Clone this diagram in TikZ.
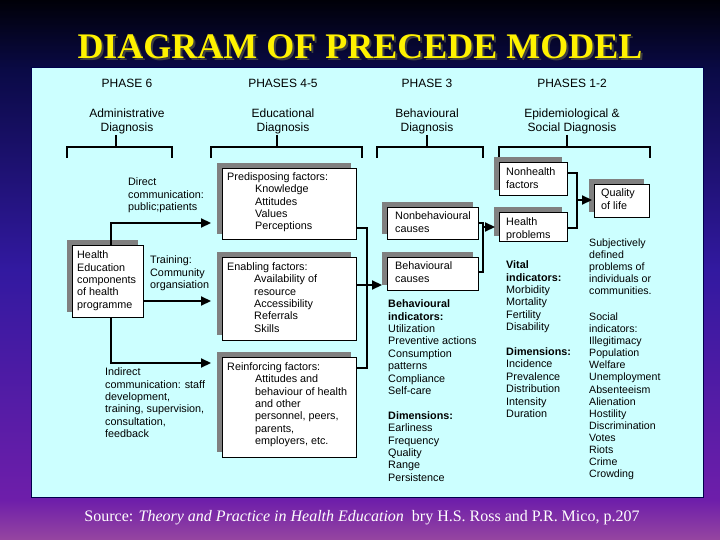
\documentclass[tikz,border=0pt]{standalone}
\usepackage{fontspec}
\setmainfont{Liberation Sans}
\newfontfamily\seriffam{Liberation Serif}
\usetikzlibrary{arrows.meta,shadows}
\definecolor{panelc}{RGB}{204,255,255}
\definecolor{shadowgray}{RGB}{128,128,128}
\definecolor{bgA}{RGB}{150,70,160}
\definecolor{bgB}{RGB}{110,30,170}
\definecolor{bgC}{RGB}{50,25,160}
\definecolor{bgD}{RGB}{10,10,70}
\definecolor{bgE}{RGB}{0,0,8}
\pgfdeclareverticalshading{bgshade}{100bp}{color(0bp)=(bgA); color(25bp)=(bgA); color(28.7bp)=(bgB); color(50bp)=(bgC); color(68.5bp)=(bgD); color(75bp)=(bgE); color(100bp)=(bgE)}
\begin{document}
\begin{tikzpicture}[x=1pt,y=-1pt,
  box/.style={draw=black,line width=0.6pt,fill=white,inner sep=0,anchor=north west,
    general shadow={fill=shadowgray,shadow xshift=-5pt,shadow yshift=5pt}},
  txt/.style={font=\fontsize{10.8pt}{12.4pt}\selectfont,align=left,anchor=north west,inner sep=0},
  txtr/.style={font=\fontsize{10.6pt}{12.1pt}\selectfont,align=left,anchor=north west,inner sep=0},
  hdr/.style={font=\fontsize{12pt}{14pt}\selectfont,align=center,anchor=north,inner sep=0},
  conn/.style={line width=2.2pt},
  arr/.style={conn,-{Triangle[length=10pt,width=9pt]}},
  brk/.style={line width=1.8pt}]
\useasboundingbox (0,0) rectangle (720,540);
\shade[shading=bgshade] (0,0) rectangle (720,540);
\fill[panelc] (31,67) rectangle (703,497);
\draw[black!70!blue,line width=0.8pt] (31,67) rectangle (703,497);

% title and source
\node[font=\seriffam\bfseries\fontsize{36pt}{40pt}\selectfont,text=black!75] (titlesh) at (362,48.5) {DIAGRAM OF PRECEDE MODEL};
\node[font=\seriffam\bfseries\fontsize{36pt}{40pt}\selectfont,text=yellow] (title) at (360,46.5) {DIAGRAM OF PRECEDE MODEL};
\node[font=\seriffam\fontsize{16pt}{19pt}\selectfont,text=white] (src) at (362,518) {Source: \textit{Theory and Practice in Health Education}\ \ bry H.S. Ross and P.R. Mico, p.207};

% headers
\node[hdr] (p6) at (127,77.5) {\strut PHASE 6};
\node[hdr] (p45) at (283,77.5) {\strut PHASES 4-5};
\node[hdr] (p3) at (427,77.5) {\strut PHASE 3};
\node[hdr] (p12) at (572,77.5) {\strut PHASES 1-2};
\node[hdr] (d6) at (127,107.5) {\strut Administrative\\Diagnosis};
\node[hdr] (d45) at (283,107.5) {\strut Educational\\Diagnosis};
\node[hdr] (d3) at (427,107.5) {\strut Behavioural\\Diagnosis};
\node[hdr] (d12) at (572,107.5) {\strut Epidemiological \&\\Social Diagnosis};

% brackets
\draw[brk] (67,158) -- (67,147) -- (172,147) -- (172,158);
\draw[brk] (116,135) -- (116,147);
\draw[brk] (211,158) -- (211,147) -- (362,147) -- (362,158);
\draw[brk] (277,135) -- (277,147);
\draw[brk] (377,158) -- (377,147) -- (483,147) -- (483,158);
\draw[brk] (427,135) -- (427,147);
\draw[brk] (499,158) -- (499,147) -- (650,147) -- (650,158);
\draw[brk] (567,135) -- (567,147);

% boxes
\node[box,minimum width=71pt,minimum height=72pt] (he) at (72,245) {};
\node[box,minimum width=134pt,minimum height=71pt] (pre) at (222,168) {};
\node[box,minimum width=134pt,minimum height=83pt] (ena) at (222,257) {};
\node[box,minimum width=134pt,minimum height=100pt] (rei) at (222,357) {};
\node[box,minimum width=91pt,minimum height=32pt] (nbc) at (387,207) {};
\node[box,minimum width=91pt,minimum height=33pt] (bc) at (387,257) {};
\node[box,minimum width=68pt,minimum height=33pt] (nhf) at (499,162) {};
\node[box,minimum width=68pt,minimum height=29pt] (hp) at (499,212) {};
\node[box,minimum width=55pt,minimum height=33pt] (qol) at (594,184) {};

% box texts
\node[txt] (hetxt) at (77,249.8) {\strut Health\\Education\\components\\of health\\programme};
\node[txt] (pretxt) at (227,171.8) {\strut Predisposing factors:};
\node[txt] (preitems) at (255,183.8) {\strut Knowledge\\Attitudes\\Values\\Perceptions};
\node[txt] (enatxt) at (227,261.8) {\strut Enabling factors:};
\node[txt] (enaitems) at (254,273.8) {\strut Availability of\\resource\\Accessibility\\Referrals\\Skills};
\node[txt] (reitxt) at (227,361.8) {\strut Reinforcing factors:};
\node[txt] (reiitems) at (255,373.8) {\strut Attitudes and\\behaviour of health\\and other\\personnel, peers,\\parents,\\employers, etc.};
\node[txt] (nbctxt) at (395,210.8) {\strut Nonbehavioural\\causes};
\node[txt] (bctxt) at (395,260.8) {\strut Behavioural\\causes};
\node[txt] (nhftxt) at (506,166.8) {\strut Nonhealth\\factors};
\node[txt] (hptxt) at (506,216.8) {\strut Health\\problems};
\node[txt] (qoltxt) at (601,187.8) {\strut Quality\\of life};

% free labels
\node[txt] (direct) at (128,176.8) {\strut Direct\\communication:\\public;patients};
\node[txt] (training) at (150,254.8) {\strut Training:\\Community\\organsiation};
\node[txt] (indirect) at (105,366.8) {\strut Indirect\\communication: staff\\development,\\training, supervision,\\consultation,\\feedback};
\node[txt] (behind) at (388,298.8) {\strut\textbf{Behavioural}\\\textbf{indicators:}\\Utilization\\Preventive actions\\Consumption\\patterns\\Compliance\\Self-care\\[12.4pt]\textbf{Dimensions:}\\Earliness\\Frequency\\Quality\\Range\\Persistence};
\node[txt] (vital) at (506,259.8) {\strut\textbf{Vital}\\\textbf{indicators:}\\Morbidity\\Mortality\\Fertility\\Disability\\[12.4pt]\textbf{Dimensions:}\\Incidence\\Prevalence\\Distribution\\Intensity\\Duration};
\node[txtr] (subj) at (589,237.8) {\strut Subjectively\\defined\\problems of\\individuals or\\communities.};
\node[txtr] (social) at (589,311.8) {\strut Social\\indicators:\\Illegitimacy\\Population\\Welfare\\Unemployment\\Absenteeism\\Alienation\\Hostility\\Discrimination\\Votes\\Riots\\Crime\\Crowding};

% arrow tip coordinates
\coordinate (t1) at (211,223);
\coordinate (t2) at (211,301);
\coordinate (t3) at (211,363);
\coordinate (t5) at (382,285);
\coordinate (t6) at (495,227);
\coordinate (t7) at (592,200);

% connectors
\draw[arr] (he.north west) ++(39,0) |- (t1);
\draw[arr] (he.east |- t2) -- (t2);
\draw[arr] (he.south west) ++(39,0) |- (t3);
\draw[conn] (pre.east |- 0,228) -- (367,228) -- (367,368) -- (rei.east |- 0,368);
\draw[arr] (ena.east |- t5) -- (t5);
\draw[conn] (nbc.east |- 0,223) -- (483,223) -- (483,272) -- (bc.east |- 0,272);
\draw[arr] (483,227) -- (t6);
\draw[conn] (nhf.east |- 0,173) -- (577,173) -- (577,228) -- (hp.east |- 0,228);
\draw[arr] (577,200) -- (t7);
\end{tikzpicture}
\end{document}
